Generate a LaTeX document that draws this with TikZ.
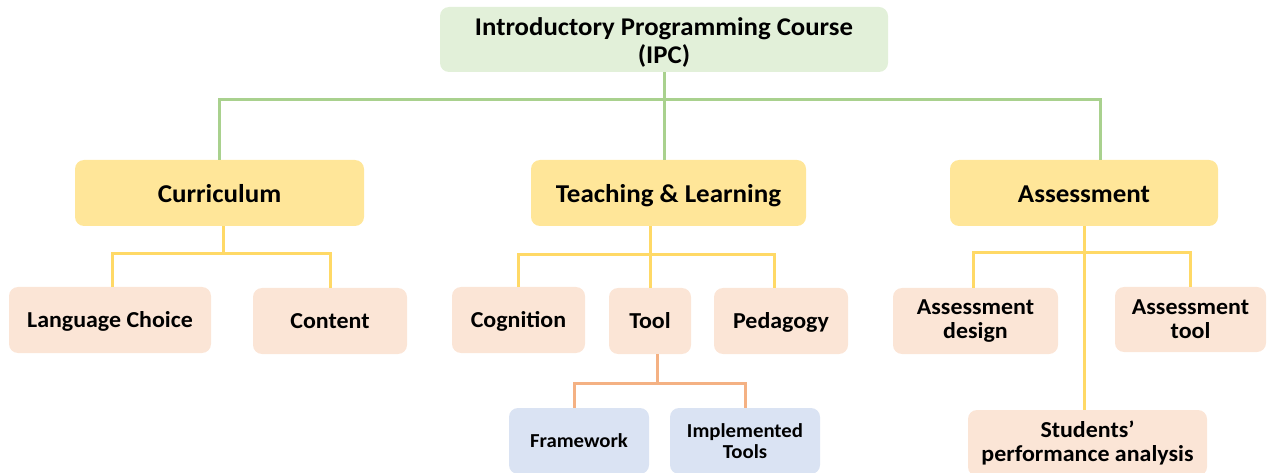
\documentclass[tikz,border=0pt]{standalone}
\usepackage{fontspec}
\setmainfont{Carlito}[FakeStretch=1.05]
\usetikzlibrary{calc}
\definecolor{topfill}{HTML}{E2F0D9}
\definecolor{midfill}{HTML}{FFE699}
\definecolor{leaffill}{HTML}{FBE5D6}
\definecolor{subfill}{HTML}{DAE3F3}
\definecolor{greenline}{HTML}{A9D18E}
\definecolor{yellowline}{HTML}{FFD966}
\definecolor{orangeline}{HTML}{F4B183}
% lower a text without changing the box it takes up
\newcommand{\lowerby}[2]{\raisebox{-#1}[\height][\depth]{#2}}
\tikzset{
  box/.style={rectangle, rounded corners=9pt, draw=none, align=center,
    inner sep=0pt, font=\bfseries},
  topbox/.style={box, fill=topfill, font=\bfseries\fontsize{25.5}{28}\selectfont},
  midbox/.style={box, fill=midfill, font=\bfseries\fontsize{25.7}{30}\selectfont},
  leafbox/.style={box, fill=leaffill, font=\bfseries\fontsize{22.8}{24}\selectfont},
  subbox/.style={box, fill=subfill, font=\bfseries\fontsize{19.8}{21}\selectfont},
  gline/.style={draw=greenline, line width=3pt},
  yline/.style={draw=yellowline, line width=3pt},
  oline/.style={draw=orangeline, line width=3pt},
}
\begin{document}
\begin{tikzpicture}[x=1pt, y=-1pt]
\useasboundingbox (0,0) rectangle (1267,473);
\clip (0,0) rectangle (1267,473);

% root
\node[topbox, minimum width=448pt, minimum height=65pt] (ipc) at (664,39.5)
  {\lowerby{4.5pt}{\begin{tabular}{@{}c@{}}Introductory Programming Course\\(IPC)\end{tabular}}};

% first level
\node[midbox, minimum width=289pt, minimum height=66pt] (cur) at (219.5,193) {\lowerby{1pt}{Curriculum}};
\node[midbox, minimum width=275pt, minimum height=66pt] (tl) at (668.5,193) {\lowerby{3pt}{Teaching \& Learning}};
\node[midbox, minimum width=268pt, minimum height=66pt] (ass) at (1084,193) {\lowerby{1pt}{Assessment}};

% second level
\node[leafbox, minimum width=202pt, minimum height=66pt] (lang) at (110,320) {\lowerby{1pt}{Language Choice}};
\node[leafbox, minimum width=154pt, minimum height=66pt] (cont) at (330,321) {Content};
\node[leafbox, minimum width=133pt, minimum height=66pt] (cog) at (518.5,320) {\lowerby{1pt}{Cognition}};
\node[leafbox, minimum width=82pt, minimum height=66pt] (tool) at (650,321) {Tool};
\node[leafbox, minimum width=134pt, minimum height=66pt] (ped) at (781,321) {\lowerby{1pt}{Pedagogy}};
\node[leafbox, minimum width=165pt, minimum height=66pt] (adesign) at (975.5,321) {Assessment\\design};
\node[leafbox, minimum width=151pt, minimum height=65pt] (atool) at (1190.5,319.5) {Assessment\\tool};
\node[leafbox, minimum width=239pt, minimum height=66pt] (stud) at (1087.5,443) {Students’\\performance analysis};

% third level
\node[subbox, minimum width=140pt, minimum height=66pt] (frame) at (579,441) {Framework};
\node[subbox, minimum width=150pt, minimum height=66pt] (impl) at (745,441) {Implemented\\Tools};

% bus levels
\coordinate (gbus) at (0,100);
\coordinate (cbus) at (0,254);
\coordinate (tbus) at (0,255);
\coordinate (obus) at (0,383);
\coordinate (abus) at (0,253);

% root connectors
\draw[gline] (ipc.south) -- (ipc.south |- gbus);
\draw[gline] (cur.north) -- (cur.north |- gbus) -- ($(ass.north |- gbus)+(16,0)$) -- ($(ass.north)+(16,0)$);
\draw[gline] (ipc.south |- gbus) -- (ipc.south |- tl.north);

% curriculum connectors
\draw[yline] ($(cur.south)+(4,0)$) -- ($(cur.south |- cbus)+(4,0)$);
\draw[yline] ($(lang.north)+(2,0)$) -- ($(lang.north |- cbus)+(2,0)$) -- (cont.north |- cbus) -- (cont.north);

% teaching & learning connectors
\draw[yline] (tool.north |- tl.south) -- (tool.north);
\draw[yline] (cog.north) -- (cog.north |- tbus) -- ($(ped.north |- tbus)+(-7,0)$) -- ($(ped.north)+(-7,0)$);

% tool connectors
\draw[oline] ($(tool.south)+(7,0)$) -- ($(tool.south |- obus)+(7,0)$);
\draw[oline] ($(frame.north)+(-5,0)$) -- ($(frame.north |- obus)+(-5,0)$) -- (impl.north |- obus) -- (impl.north);

% assessment connectors
\draw[yline] (ass.south) -- (ass.south |- stud.north);
\draw[yline] ($(adesign.north)+(-2,0)$) -- ($(adesign.north |- abus)+(-2,0)$) -- (atool.north |- abus) -- (atool.north);
\end{tikzpicture}
\end{document}
